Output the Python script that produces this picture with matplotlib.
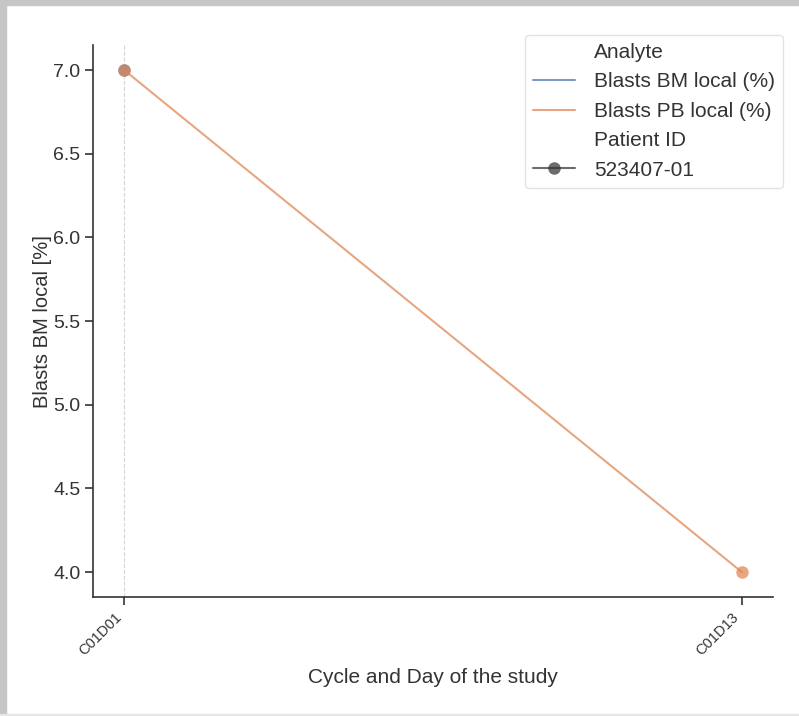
import matplotlib
matplotlib.use("Agg")
import matplotlib.pyplot as plt
import matplotlib.patches as mpatches
import seaborn as sns
import pandas as pd

# lab values per visit
visits = ["C01D01", "C01D01", "C01D13"]
analytes = ["Blasts BM local (%)", "Blasts PB local (%)", "Blasts PB local (%)"]
values = [7.0, 7.0, 4.0]
patients = ["523407-01", "523407-01", "523407-01"]

df = pd.DataFrame({
    "Cycle and Day of the study": visits,
    "Analyte": analytes,
    "Blasts BM local [%]": values,
    "Patient ID": patients,
})

sns.set_style("ticks")
plt.rcParams["font.family"] = ["Liberation Sans", "DejaVu Sans"]

fig = plt.figure(figsize=(7.99, 7.16), dpi=100)
ax = fig.add_axes([0.117, 0.166, 0.85, 0.771])

sns.lineplot(data=df, x="Cycle and Day of the study", y="Blasts BM local [%]",
             hue="Analyte", style="Patient ID", markers=["o"], dashes=False,
             alpha=0.72, linewidth=1.5, markersize=9, markeredgewidth=0,
             palette="deep", ax=ax)

# first dosing day
ax.axvline(0, color="#d5d5d5", linestyle="--", linewidth=0.8, zorder=0)

sns.despine(ax=ax)
for sp in ["left", "bottom"]:
    ax.spines[sp].set_linewidth(1.2)
    ax.spines[sp].set_color("#333333")

ax.tick_params(axis="y", labelsize=14, length=6, width=1.2, colors="#333333")
ax.tick_params(axis="x", labelsize=10.5, length=6, width=1.2, colors="#333333")
plt.setp(ax.get_xticklabels(), rotation=45, ha="right")
ax.set_xlabel("Cycle and Day of the study", fontsize=15, color="#333333", labelpad=7)
ax.set_ylabel("Blasts BM local [%]", fontsize=14.5, color="#333333", labelpad=1)
ax.set_yticks([4.0, 4.5, 5.0, 5.5, 6.0, 6.5, 7.0])
ax.set_yticklabels(["4.0", "4.5", "5.0", "5.5", "6.0", "6.5", "7.0"])

leg = ax.legend(loc="upper right", fontsize=15, handlelength=2.0, handletextpad=0.9,
                labelspacing=0.5, borderaxespad=-0.5, frameon=True)
leg.get_frame().set_edgecolor("#dddddd")
for t in leg.get_texts():
    t.set_color("#333333")

# grey frame around the figure
fig.patches.append(mpatches.Rectangle((0, 0.993), 1, 0.007, transform=fig.transFigure,
                                      color="#c6c6c6", zorder=10))
fig.patches.append(mpatches.Rectangle((0, 0), 0.008, 1, transform=fig.transFigure,
                                      color="#c6c6c6", zorder=10))
fig.patches.append(mpatches.Rectangle((0, 0), 1, 0.003, transform=fig.transFigure,
                                      color="#e6e6e6", zorder=10))

fig.savefig("out.png", dpi=100)
